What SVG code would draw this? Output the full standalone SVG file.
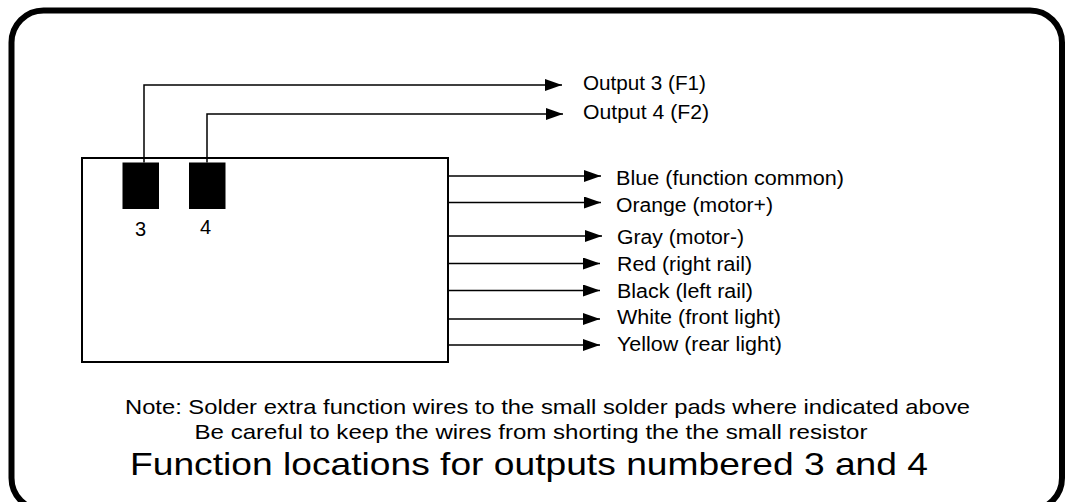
<svg xmlns="http://www.w3.org/2000/svg" width="1066" height="502" viewBox="0 0 1066 502">
<style>
.t{font-family:"Liberation Sans",Arial,sans-serif;fill:#000}
.lb{font-size:20px}
.nt{font-size:21px}
.ti{font-size:32px}
.w{stroke:#000;stroke-width:1.5;fill:none}
</style>
<defs>
<marker id="ah" markerUnits="userSpaceOnUse" markerWidth="17" markerHeight="12" refX="17" refY="6" orient="auto">
<path d="M0,0 L17,6 L0,12 z" fill="#000"/>
</marker>
</defs>
<rect width="1066" height="502" fill="#fff"/>
<rect id="frame" x="11.5" y="10.5" width="1050.5" height="499.5" rx="32" ry="32" fill="none" stroke="#000" stroke-width="6"/>
<g id="board">
<rect x="82" y="158" width="366" height="204" fill="none" stroke="#000" stroke-width="2"/>
</g>
<g id="pad3">
<rect x="122.5" y="162.5" width="36.5" height="46.5" fill="#000"/>
<text class="t lb" x="140.5" y="236" text-anchor="middle">3</text>
</g>
<g id="pad4">
<rect x="189" y="162.5" width="36.5" height="46.5" fill="#000"/>
<text class="t lb" x="205.5" y="234" text-anchor="middle">4</text>
</g>
<g id="connectors">
<path class="w" d="M144,162.5 V85 H562" marker-end="url(#ah)"/>
<path class="w" d="M207,162.5 V114 H563" marker-end="url(#ah)"/>
<line class="w" x1="449" y1="176" x2="601" y2="176" marker-end="url(#ah)"/>
<line class="w" x1="449" y1="202.5" x2="601" y2="202.5" marker-end="url(#ah)"/>
<line class="w" x1="449" y1="236" x2="602" y2="236" marker-end="url(#ah)"/>
<line class="w" x1="449" y1="263.5" x2="600" y2="263.5" marker-end="url(#ah)"/>
<line class="w" x1="449" y1="290.5" x2="600" y2="290.5" marker-end="url(#ah)"/>
<line class="w" x1="449" y1="319" x2="600" y2="319" marker-end="url(#ah)"/>
<line class="w" x1="449" y1="345" x2="600" y2="345" marker-end="url(#ah)"/>
</g>
<g id="labels">
<text class="t lb" x="583" y="90" textLength="123" lengthAdjust="spacingAndGlyphs">Output 3 (F1)</text>
<text class="t lb" x="583" y="118.5" textLength="126" lengthAdjust="spacingAndGlyphs">Output 4 (F2)</text>
<text class="t lb" x="616" y="184.5" textLength="228" lengthAdjust="spacingAndGlyphs">Blue (function common)</text>
<text class="t lb" x="616" y="212" textLength="157" lengthAdjust="spacingAndGlyphs">Orange (motor+)</text>
<text class="t lb" x="617" y="244" textLength="127" lengthAdjust="spacingAndGlyphs">Gray (motor-)</text>
<text class="t lb" x="617" y="270.5" textLength="135" lengthAdjust="spacingAndGlyphs">Red (right rail)</text>
<text class="t lb" x="617" y="297.5" textLength="136" lengthAdjust="spacingAndGlyphs">Black (left rail)</text>
<text class="t lb" x="617" y="324" textLength="164" lengthAdjust="spacingAndGlyphs">White (front light)</text>
<text class="t lb" x="617" y="350.5" textLength="165" lengthAdjust="spacingAndGlyphs">Yellow (rear light)</text>
</g>
<g id="notes">
<text class="t nt" x="125" y="414" textLength="845" lengthAdjust="spacingAndGlyphs">Note: Solder extra function wires to the small solder pads where indicated above</text>
<text class="t nt" x="194.5" y="438.5" textLength="673" lengthAdjust="spacingAndGlyphs">Be careful to keep the wires from shorting the the small resistor</text>
<text class="t ti" x="130" y="474.5" textLength="798" lengthAdjust="spacingAndGlyphs">Function locations for outputs numbered 3 and 4</text>
</g>
</svg>
